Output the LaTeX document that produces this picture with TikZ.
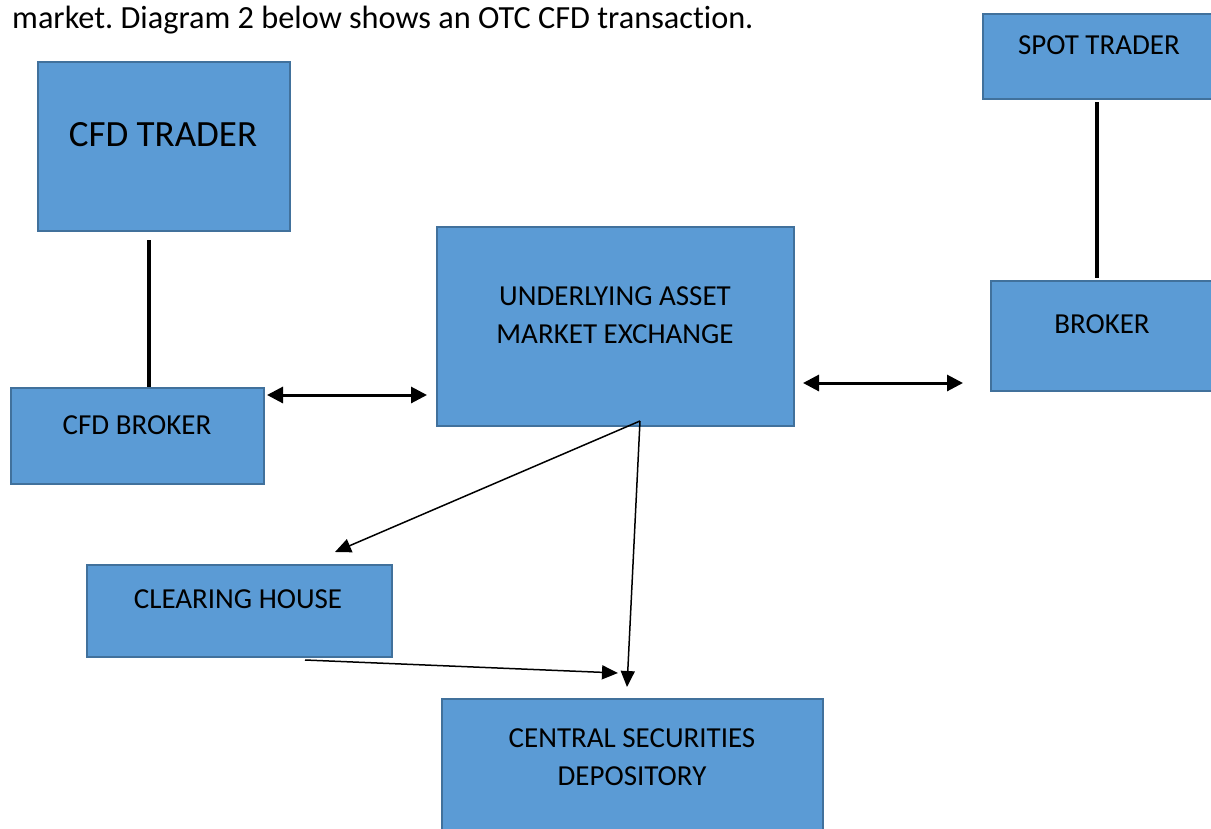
\documentclass[tikz,border=0pt]{standalone}
\usepackage{fontspec}
\setmainfont{Carlito}[Ligatures=NoCommon]
\usetikzlibrary{arrows.meta}
\definecolor{boxfill}{HTML}{5B9BD5}
\definecolor{boxline}{HTML}{41719C}
\frenchspacing
\begin{document}
\begin{tikzpicture}[x=1pt,y=-1pt,
  box/.style={draw=boxline, fill=boxfill, line width=2pt, anchor=north west, inner sep=0pt},
  lbl/.style={font=\fontsize{29}{38}\selectfont, inner sep=0pt, align=center},
  biglbl/.style={font=\fontsize{37}{44}\selectfont, inner sep=0pt, align=center},
  link/.style={line width=3.5pt},
  dbl/.style={line width=3pt, {Triangle[length=16pt,width=16pt]}-{Triangle[length=16pt,width=16pt]}},
  flow/.style={line width=1.5pt, -{Triangle[length=16pt,width=14pt]}}]
\useasboundingbox (0,0) rectangle (1211,828);
\clip (0,0) rectangle (1211,828);

\node[anchor=base west, font=\fontsize{32.3}{40}\selectfont, inner sep=0pt] (intro) at (12,28) {market. Diagram 2 below shows an OTC CFD transaction.};

\node[box, minimum width=252pt, minimum height=169pt] (cfdtrader) at (37,61) {};
\node[box, minimum width=240pt, minimum height=85pt] (spottrader) at (982,13) {};
\node[box, minimum width=357pt, minimum height=199pt] (exchange) at (436,226) {};
\node[box, minimum width=230pt, minimum height=110pt] (broker) at (990,280) {};
\node[box, minimum width=253pt, minimum height=96pt] (cfdbroker) at (10,387) {};
\node[box, minimum width=305pt, minimum height=92pt] (clearing) at (86,564) {};
\node[box, minimum width=381pt, minimum height=150pt] (csd) at (441,698) {};

\node[biglbl] (tcfdtrader) at (163,135) {CFD TRADER};
\node[lbl] (tspottrader) at (1099,45) {SPOT TRADER};
\node[lbl] (texchange) at (615,315) {UNDERLYING ASSET\\MARKET EXCHANGE};
\node[lbl] (tbroker) at (1102,324) {BROKER};
\node[lbl] (tcfdbroker) at (137,425) {CFD BROKER};
\node[lbl] (tclearing) at (238,599) {CLEARING HOUSE};
\node[lbl] (tcsd) at (632,757) {CENTRAL SECURITIES\\DEPOSITORY};

\coordinate (a1) at (149,240);
\coordinate (a2) at (149,387);
\coordinate (b1) at (1097,102);
\coordinate (b2) at (1097,278);
\coordinate (c1) at (267,395);
\coordinate (c2) at (427,395);
\coordinate (d1) at (803,383);
\coordinate (d2) at (963,383);
\coordinate (e0) at (640,421);
\coordinate (e1) at (335,552);
\coordinate (e2) at (627,687);
\coordinate (f1) at (305,660);
\coordinate (f2) at (618,673);

\draw[link] (a1) -- (a2);
\draw[link] (b1) -- (b2);
\draw[dbl] (c1) -- (c2);
\draw[dbl] (d1) -- (d2);
\draw[flow] (e0) -- (e1);
\draw[flow] (e0) -- (e2);
\draw[flow] (f1) -- (f2);
\end{tikzpicture}
\end{document}
